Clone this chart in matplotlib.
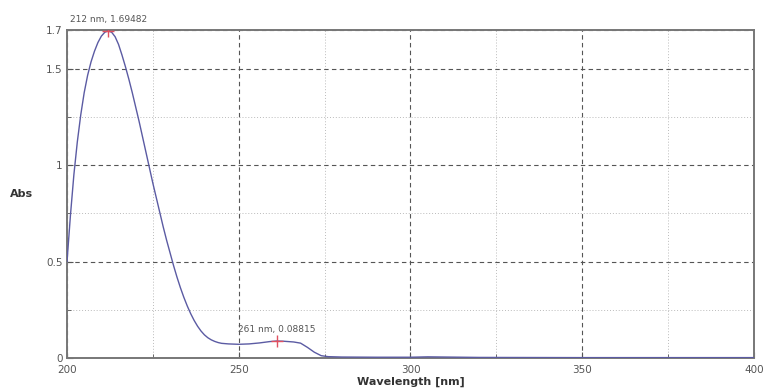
import matplotlib
matplotlib.use("Agg")
import matplotlib.pyplot as plt
from matplotlib.ticker import MultipleLocator, FixedLocator

wavelength = [200, 201, 202, 203, 204, 205, 206, 207, 208, 209, 210, 211, 212,
              213, 214, 215, 216, 217, 218, 219, 220, 221, 222, 223, 224, 225,
              226, 227, 228, 229, 230, 231, 232, 233, 234, 235, 236, 237, 238,
              239, 240, 241, 242, 243, 244, 245, 247, 250, 253, 256, 259, 261,
              263, 266, 268, 270, 272, 274, 276, 280, 290, 300, 305, 310, 320,
              350, 400]
absorbance = [0.50, 0.74, 0.95, 1.12, 1.26, 1.375, 1.465, 1.535, 1.59, 1.635, 1.668, 1.688, 1.695,
              1.688, 1.665, 1.625, 1.57, 1.51, 1.445, 1.375, 1.30, 1.225, 1.145, 1.065, 0.985, 0.905,
              0.83, 0.755, 0.68, 0.61, 0.545, 0.48, 0.42, 0.365, 0.315, 0.27, 0.23, 0.195, 0.165,
              0.14, 0.12, 0.105, 0.094, 0.086, 0.08, 0.076, 0.073, 0.071, 0.073, 0.078, 0.085, 0.088,
              0.087, 0.083, 0.077, 0.055, 0.03, 0.012, 0.007, 0.005, 0.004, 0.004, 0.006, 0.005, 0.003,
              0.002, 0.002]

peak_x = [212, 261]
peak_y = [1.69482, 0.08815]
peak_labels = ["212 nm, 1.69482", "261 nm, 0.08815"]

x_ticks = [200, 250, 300, 350, 400]
y_ticks = [0, 0.5, 1, 1.5, 1.7]
y_tick_labels = ["0", "0.5", "1", "1.5", "1.7"]

fig = plt.figure(figsize=(7.65, 3.91), dpi=100)
ax = fig.add_axes([0.0876, 0.0844, 0.898, 0.839])

ax.plot(wavelength, absorbance, color="#5b5ba3", linewidth=1.0, zorder=3)
ax.plot(peak_x, peak_y, linestyle="none", marker="+", color="#e05060",
        markersize=9, markeredgewidth=1.0, zorder=4)
for px, py, lab in zip(peak_x, peak_y, peak_labels):
    ax.annotate(lab, (px, py), xytext=(0, 5), textcoords="offset points",
                ha="center", va="bottom", fontsize=6.5, color="#555555")

ax.set_xlim(200, 400)
ax.set_ylim(0, 1.7)
ax.xaxis.set_major_locator(FixedLocator(x_ticks))
ax.xaxis.set_minor_locator(MultipleLocator(25))
ax.yaxis.set_major_locator(FixedLocator(y_ticks))
ax.set_yticklabels(y_tick_labels)
ax.yaxis.set_minor_locator(FixedLocator([0.25, 0.75, 1.25]))

ax.grid(which="major", linestyle=(0, (4, 3)), color="#555555", linewidth=0.8)
ax.grid(which="minor", linestyle=(0, (1, 2)), color="#bbbbbb", linewidth=0.7)

ax.tick_params(which="both", direction="in", labelsize=7.5, colors="#555555",
               length=4, pad=3)
ax.tick_params(axis="x", which="both", pad=5)
ax.tick_params(which="minor", length=3)
for s in ax.spines.values():
    s.set_color("#777777")
    s.set_linewidth(1.4)

ax.set_xlabel("Wavelength [nm]", fontsize=8, fontweight="bold", color="#333333", labelpad=1)
ax.set_ylabel("Abs", fontsize=8, fontweight="bold", color="#333333", rotation=0,
              labelpad=18, va="center")

fig.savefig("out.png", dpi=100)
